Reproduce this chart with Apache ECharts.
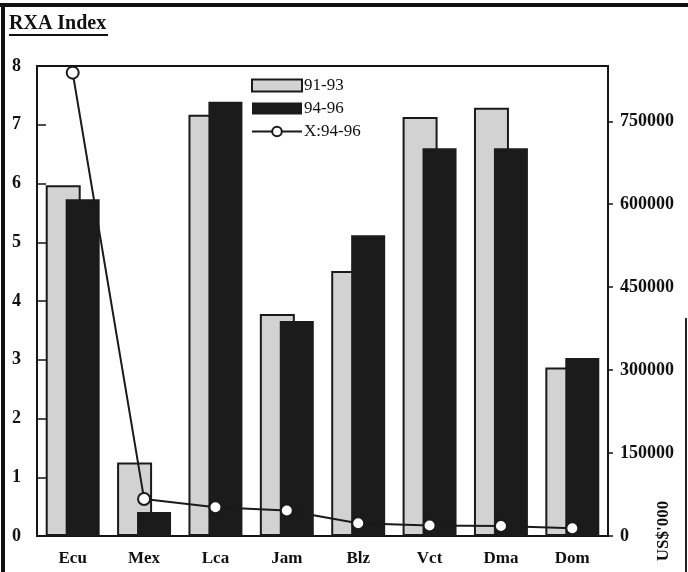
<!DOCTYPE html>
<html>
<head>
<meta charset="utf-8">
<script src="https://cdn.jsdelivr.net/npm/echarts@6/dist/echarts.min.js"></script>
<style>html,body{margin:0;padding:0;background:#fff;}#c{width:688px;height:572px;}</style>
</head>
<body>
<div id="c"></div>
<script>
const categories = ['Ecu','Mex','Lca','Jam','Blz','Vct','Dma','Dom'];
const rxa9193 = [5.97, 1.25, 7.17, 3.78, 4.51, 7.13, 7.29, 2.87];
const rxa9496 = [5.73, 0.41, 7.39, 3.66, 5.12, 6.60, 6.60, 3.03];
const exports9496 = [838000, 67000, 52000, 46000, 23000, 19000, 18000, 14000];
const leftTicks = [0,1,2,3,4,5,6,7,8];
const rightTicks = [0,150000,300000,450000,600000,750000];

const serif = '"Liberation Serif", "DejaVu Serif", serif';
const chart = echarts.init(document.getElementById('c'));
chart.setOption({
  animation: false,
  backgroundColor: '#ffffff',
  grid: {left: 37, right: 80, top: 66, bottom: 36, show: true, borderColor: '#151515', borderWidth: 2, backgroundColor: 'transparent'},
  legend: {
    orient: 'vertical', left: 246, top: 72, itemGap: 6, itemWidth: 50, itemHeight: 12,
    textStyle: {fontFamily: serif, fontSize: 17, color: '#111', padding: [0,0,0,-3]},
    data: [{name: '91-93', icon: 'rect'}, {name: '94-96', icon: 'rect'}, {name: 'X:94-96'}]
  },
  xAxis: {
    type: 'category', data: categories,
    axisLine: {lineStyle: {color: '#151515', width: 2}},
    axisTick: {inside: true, length: 5, lineStyle: {color: '#151515', width: 1.5}},
    axisLabel: {fontFamily: serif, fontWeight: 'bold', fontSize: 17, color: '#111', margin: 14}
  },
  yAxis: [{
    type: 'value', min: 0, max: 8, interval: 1, position: 'left',
    axisLabel: {customValues: leftTicks, fontFamily: serif, fontWeight: 'bold', fontSize: 18, color: '#111', margin: 16},
    axisLine: {show: true, lineStyle: {color: '#151515', width: 2}},
    axisTick: {show: true, customValues: leftTicks, inside: true, length: 9, lineStyle: {color: '#151515', width: 1.5}},
    splitLine: {show: false}
  }, {
    type: 'value', min: 0, max: 850000, interval: 150000, position: 'right',
    axisLabel: {customValues: rightTicks, formatter: function (v) { return String(v); }, fontFamily: serif, fontWeight: 'bold', fontSize: 18, color: '#111', margin: 12},
    axisLine: {show: true, lineStyle: {color: '#151515', width: 2}},
    axisTick: {show: true, customValues: rightTicks, length: 5, lineStyle: {color: '#151515', width: 1.5}},
    splitLine: {show: false}
  }],
  series: [{
    name: '91-93', type: 'bar', data: rxa9193, barWidth: 35, barGap: '-43%',
    itemStyle: {color: '#d2d2d2', borderColor: '#1a1a1a', borderWidth: 2}
  }, {
    name: '94-96', type: 'bar', data: rxa9496, barWidth: 34,
    itemStyle: {color: '#1b1b1b', borderColor: '#1b1b1b', borderWidth: 0}
  }, {
    name: 'X:94-96', type: 'line', yAxisIndex: 1, data: exports9496, z: 5,
    symbol: 'circle', symbolSize: 12, showAllSymbol: true,
    lineStyle: {color: '#1a1a1a', width: 2},
    itemStyle: {color: '#ffffff', borderColor: '#1a1a1a', borderWidth: 2}
  }],
  graphic: [
    {type: 'rect', shape: {x: 0, y: 3, width: 688, height: 4}, style: {fill: '#111'}},
    {type: 'rect', shape: {x: 1, y: 3, width: 4, height: 569}, style: {fill: '#111'}},
    {type: 'rect', shape: {x: 685, y: 318, width: 2, height: 254}, style: {fill: '#222'}},
    {type: 'text', left: 9, top: 14, style: {text: 'RXA Index', font: 'bold 20px ' + serif, fill: '#111'}},
    {type: 'rect', shape: {x: 9, y: 34, width: 99, height: 2}, style: {fill: '#111'}},
    {type: 'text', x: 664, y: 531, rotation: Math.PI / 2, style: {text: "US$'000", font: 'bold 17px ' + serif, fill: '#111', align: 'center', verticalAlign: 'middle'}}
  ]
});
</script>
</body>
</html>
